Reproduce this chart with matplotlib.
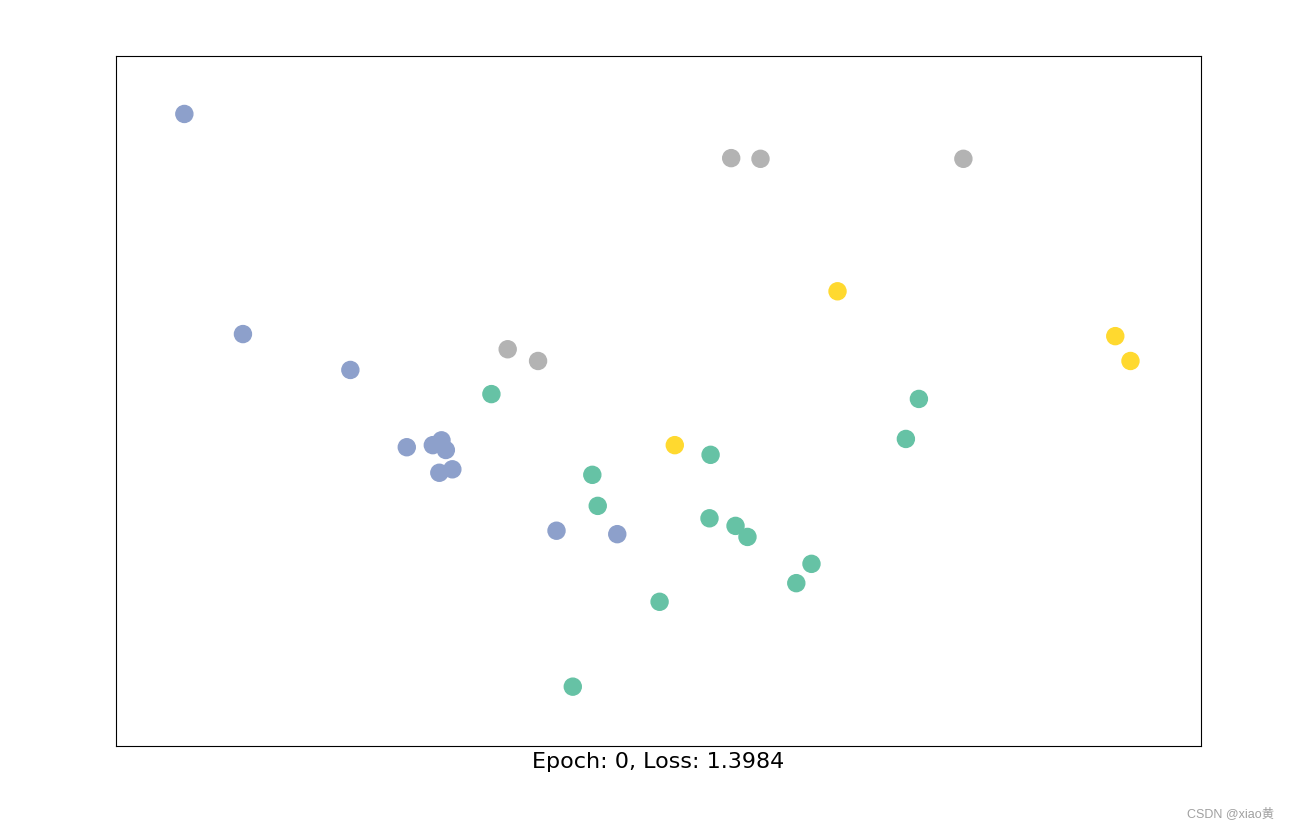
import matplotlib.pyplot as plt
import numpy as np

# 2-d embedding of nodes at epoch 0 and their class labels
x = [0.063, 0.117, 0.216, 0.268, 0.292, 0.300, 0.304, 0.298, 0.310, 0.406, 0.462,
     0.567, 0.594, 0.781, 0.361, 0.389,
     0.665, 0.921, 0.935, 0.515,
     0.346, 0.740, 0.728, 0.548, 0.439, 0.444, 0.547, 0.571, 0.582, 0.641, 0.627, 0.501, 0.421]
y = [0.916, 0.597, 0.545, 0.433, 0.436, 0.443, 0.429, 0.396, 0.401, 0.312, 0.307,
     0.852, 0.851, 0.851, 0.575, 0.558,
     0.659, 0.594, 0.558, 0.436,
     0.510, 0.503, 0.445, 0.422, 0.393, 0.348, 0.330, 0.319, 0.303, 0.264, 0.236, 0.209, 0.086]
labels = [1] * 11 + [3] * 5 + [2] * 4 + [0] * 13
epoch = 0
loss = 1.3984

fig = plt.figure(figsize=(12.9, 8.3), dpi=100)
ax = fig.add_axes([116 / 1290, 84 / 830, 1085 / 1290, 690 / 830])
ax.scatter(x, y, s=150, c=labels, cmap="Set2")
ax.set_xlim(0, 1)
ax.set_ylim(0, 1)
ax.set_xticks([])
ax.set_yticks([])
ax.set_xlabel(f"Epoch: {epoch}, Loss: {loss:.4f}", fontsize=16)

# watermark
fig.text(0.988, 0.012, "CSDN @xiao黄", ha="right", va="bottom", fontsize=9,
         color="#a0a0a0", family=["Liberation Sans", "Noto Sans CJK SC"])

plt.savefig("out.png")
